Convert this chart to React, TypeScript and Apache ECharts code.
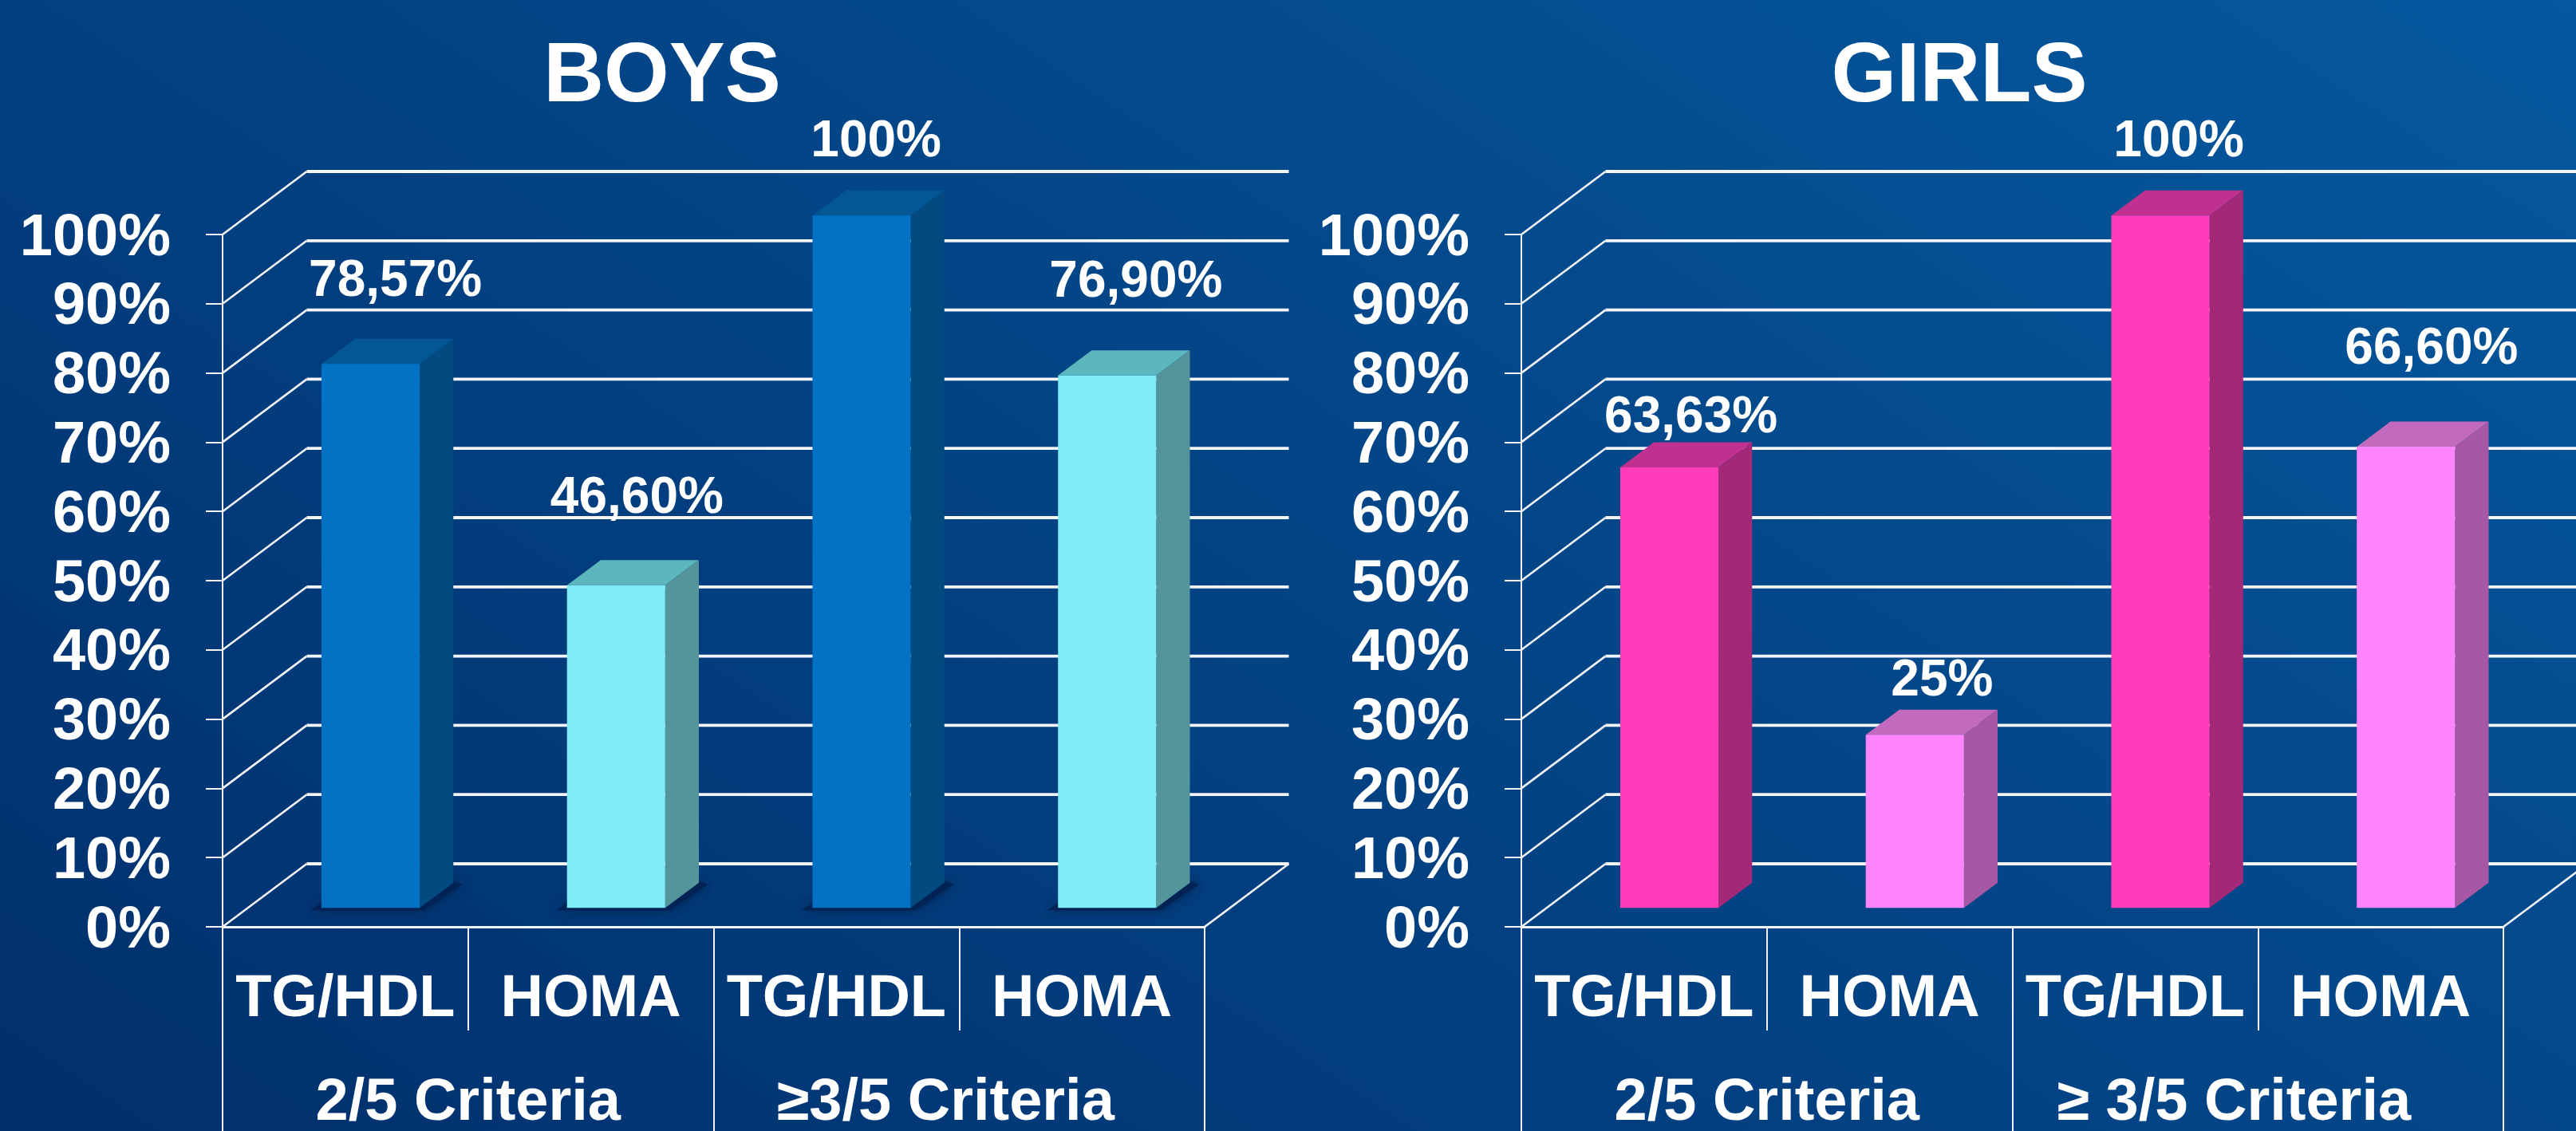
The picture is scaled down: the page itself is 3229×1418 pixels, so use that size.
import React, { useEffect, useRef } from "react";
import * as echarts from "echarts";

const metricCategories = ["TG/HDL", "HOMA", "TG/HDL", "HOMA"];
const boysGroups = ["2/5 Criteria", "≥3/5 Criteria"];
const girlsGroups = ["2/5 Criteria", "≥ 3/5 Criteria"];
const boysValues = [78.57, 46.6, 100, 76.9];
const girlsValues = [63.63, 25, 100, 66.6];
const boysLabels = ["78,57%", "46,60%", "100%", "76,90%"];
const girlsLabels = ["63,63%", "25%", "100%", "66,60%"];
const gridTicks = [0, 10, 20, 30, 40, 50, 60, 70, 80, 90, 100];

// layout constants (not data)
const W = 3229;
const H = 1418;
const FONT = '"Liberation Sans", Arial, sans-serif';
const WHITE = "#ffffff";
const LINE = "#f2f4f7";
const DEPTH_X = 105.5;
const DEPTH_Y = 79;
const BAR_WIDTH = 0.4;
const BAR_FRONT = 0.3;
const BAR_DEPTH = 0.4;
const boysNudge = [[10, 76], [5, 81], [-3, 65], [15, 89]];
const girlsNudge = [[6, 34], [13, 40], [2, 65], [11, 95]];

const boysPalette = [
  { front: "#0472C4", side: "#034A80", top: "#045795" },
  { front: "#7FEBF6", side: "#54959C", top: "#5CB6BE" },
];
const girlsPalette = [
  { front: "#FF3DBB", side: "#A32878", top: "#C0308F" },
  { front: "#FF85FF", side: "#A658A4", top: "#C26BBE" },
];

function gridSeries(gridIdx: number) {
  return {
    type: "custom",
    xAxisIndex: gridIdx * 2,
    yAxisIndex: gridIdx,
    z: 1,
    silent: true,
    clip: false,
    encode: { x: 0, y: 1 },
    data: gridTicks.map((v) => [0, v]),
    renderItem: (params: any, api: any) => {
      const v = api.value(1);
      const y = api.coord([0, v])[1];
      const cs = params.coordSys;
      const x0 = cs.x;
      const xR = cs.x + cs.width;
      const children: any[] = [
        {
          type: "line",
          shape: { x1: x0, y1: y, x2: x0 + DEPTH_X, y2: y - DEPTH_Y },
          style: { stroke: LINE, lineWidth: 2.6 },
        },
        {
          type: "line",
          shape: { x1: x0 + DEPTH_X, y1: y - DEPTH_Y, x2: xR + DEPTH_X, y2: y - DEPTH_Y },
          style: { stroke: LINE, lineWidth: 3.8 },
        },
      ];
      if (v === 0) {
        children.push({
          type: "line",
          shape: { x1: xR, y1: y, x2: xR + DEPTH_X, y2: y - DEPTH_Y },
          style: { stroke: LINE, lineWidth: 2.6 },
        });
      }
      return { type: "group", children };
    },
  };
}

function barSeries(
  gridIdx: number,
  values: number[],
  labels: string[],
  palette: any[],
  nudge: number[][],
  shadow: boolean
) {
  return {
    type: "custom",
    xAxisIndex: gridIdx * 2,
    yAxisIndex: gridIdx,
    z: 3,
    silent: true,
    clip: false,
    encode: { x: 0, y: 1 },
    data: values.map((v, i) => [i, v]),
    renderItem: (params: any, api: any) => {
      const i = params.dataIndex;
      const band = api.size([1, 0])[0];
      const c = api.coord([i, api.value(1)]);
      const b = api.coord([i, 0]);
      const sx = DEPTH_X * BAR_FRONT;
      const sy = DEPTH_Y * BAR_FRONT;
      const dx = DEPTH_X * BAR_DEPTH;
      const dy = DEPTH_Y * BAR_DEPTH;
      const half = (band * BAR_WIDTH) / 2;
      const l = c[0] + sx - half;
      const r = c[0] + sx + half;
      const t = c[1] - sy;
      const g = b[1] - sy;
      const col = palette[i % 2];
      const children: any[] = [];
      if (shadow) {
        children.push({
          type: "polygon",
          shape: {
            points: [
              [l - 14, g + 3],
              [r + 6, g + 3],
              [r + dx + 12, g - dy + 2],
              [r + dx, g - dy - 2],
              [l, g - 6],
            ],
          },
          style: { fill: "#012355", shadowBlur: 14, shadowColor: "#01204e" },
        });
      }
      children.push(
        {
          type: "polygon",
          shape: { points: [[l, t], [r, t], [r + dx, t - dy], [l + dx, t - dy]] },
          style: { fill: col.top },
        },
        {
          type: "polygon",
          shape: { points: [[r, t], [r + dx, t - dy], [r + dx, g - dy], [r, g]] },
          style: { fill: col.side },
        },
        {
          type: "rect",
          shape: { x: l, y: t, width: r - l, height: g - t },
          style: { fill: col.front },
        },
        {
          type: "text",
          style: {
            text: labels[i],
            x: c[0] + sx + dx / 2 + nudge[i][0],
            y: t - dy - nudge[i][1],
            fill: WHITE,
            fontSize: 64,
            fontWeight: "bold",
            fontFamily: FONT,
            align: "center",
            verticalAlign: "middle",
          },
        }
      );
      return { type: "group", children };
    },
  };
}

function xAxes(gridIdx: number, groups: string[], groupPad: number) {
  return [
    {
      type: "category",
      gridIndex: gridIdx,
      position: "bottom",
      data: metricCategories,
      axisLine: { show: true, lineStyle: { color: LINE, width: 3 } },
      axisTick: { show: true, length: 130, lineStyle: { color: LINE, width: 2 } },
      axisLabel: {
        interval: 0,
        margin: 86,
        verticalAlign: "middle",
        color: WHITE,
        fontSize: 74,
        fontWeight: "bold",
        fontFamily: FONT,
      },
    },
    {
      type: "category",
      gridIndex: gridIdx,
      position: "bottom",
      data: [
        groups[0],
        { value: groups[1], textStyle: { padding: [0, groupPad, 0, 0] } },
      ],
      axisLine: { show: false },
      axisTick: { show: true, length: 256, lineStyle: { color: LINE, width: 2 } },
      axisLabel: {
        interval: 0,
        margin: 179,
        verticalAlign: "top",
        color: WHITE,
        fontSize: 74,
        fontWeight: "bold",
        fontFamily: FONT,
      },
    },
  ];
}

function yAxis(gridIdx: number) {
  return {
    type: "value",
    gridIndex: gridIdx,
    min: 0,
    max: 100,
    interval: 10,
    axisLine: { show: true, lineStyle: { color: LINE, width: 2 } },
    axisTick: { show: true, length: 21, lineStyle: { color: LINE, width: 2 } },
    splitLine: { show: false },
    axisLabel: {
      formatter: "{value}%",
      margin: 65,
      color: WHITE,
      fontSize: 74,
      fontWeight: "bold",
      fontFamily: FONT,
    },
  };
}

function title(text: string, x: number) {
  return {
    text,
    left: x,
    top: 38,
    textAlign: "center",
    padding: 0,
    textStyle: { color: WHITE, fontSize: 105, lineHeight: 105, fontWeight: "bold", fontFamily: FONT },
  };
}

export default function App() {
  const ref = useRef<HTMLDivElement>(null);
  useEffect(() => {
    const chart = echarts.init(ref.current!, undefined, { renderer: "svg" });
    chart.setOption({
      animation: false,
      backgroundColor: {
        type: "linear",
        x: 0,
        y: H,
        x2: 1629,
        y2: -1054,
        global: true,
        colorStops: [
          { offset: 0, color: "#012F6C" },
          { offset: 1, color: "#05589E" },
        ],
      },
      title: [title("BOYS", 830), title("GIRLS", 2456)],
      grid: [
        { left: 279, top: 294, width: 1231, height: 868, outerBoundsMode: "none" },
        { left: 1907, top: 294, width: 1231, height: 868, outerBoundsMode: "none" },
      ],
      xAxis: [...xAxes(0, boysGroups, 34), ...xAxes(1, girlsGroups, 60)],
      yAxis: [yAxis(0), yAxis(1)],
      series: [
        gridSeries(0),
        gridSeries(1),
        barSeries(0, boysValues, boysLabels, boysPalette, boysNudge, true),
        barSeries(1, girlsValues, girlsLabels, girlsPalette, girlsNudge, false),
      ],
    });
    return () => chart.dispose();
  }, []);
  return (
    <div
      ref={ref}
      style={{ position: "fixed", left: 0, top: 0, width: W, height: H }}
    />
  );
}
